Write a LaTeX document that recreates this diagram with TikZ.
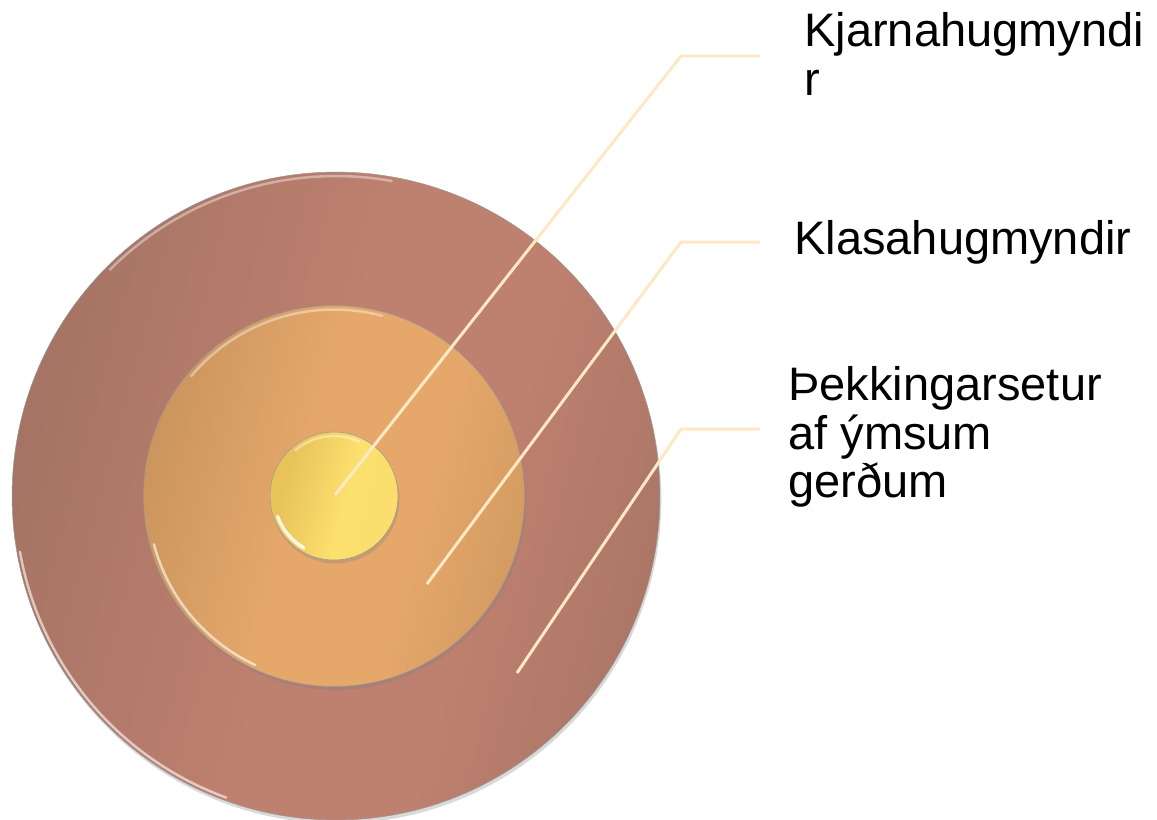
\documentclass[tikz,border=0pt]{standalone}
\usepackage{fontspec}
\setmainfont{Liberation Sans}
\usetikzlibrary{positioning,shadows}
\definecolor{RingDark}{RGB}{162,114,98}
\definecolor{RingLight}{RGB}{190,128,111}
\definecolor{DiscDark}{RGB}{203,149,93}
\definecolor{DiscLight}{RGB}{229,167,106}
\definecolor{CoreDark}{RGB}{232,195,90}
\definecolor{CoreLight}{RGB}{252,224,110}
\definecolor{LeaderCream}{RGB}{253,232,196}
\pgfdeclarehorizontalshading{ringshade}{100bp}{color(0bp)=(RingDark); color(22bp)=(RingDark);
  color(48bp)=(RingLight); color(62bp)=(RingLight); color(82bp)=(RingDark); color(100bp)=(RingDark)}
\pgfdeclarehorizontalshading{discshade}{100bp}{color(0bp)=(DiscDark); color(25bp)=(DiscDark);
  color(45bp)=(DiscLight); color(62bp)=(DiscLight); color(78bp)=(DiscDark!80!DiscLight); color(100bp)=(DiscDark)}
\pgfdeclarehorizontalshading{coreshade}{100bp}{color(0bp)=(CoreDark); color(30bp)=(CoreDark);
  color(55bp)=(CoreLight); color(100bp)=(CoreLight!85!CoreDark)}

\begin{document}
\begin{tikzpicture}[x=0.02cm, y=-0.02cm,
    disc/.style={circle, inner sep=0pt, outer sep=0pt, draw=black!40, line width=0.3pt,
      drop shadow={opacity=0.3, shadow xshift=0.8pt, shadow yshift=-2pt}},
    rim/.style={white, line width=1.4pt, opacity=0.4, line cap=round},
    leader/.style={LeaderCream, line width=1.7pt},
    lbl/.style={inner sep=0pt, align=left, text=black, font=\fontsize{26.75}{27.6}\selectfont}]
  \useasboundingbox (0,0) rectangle (1157,819);
  \node[disc, minimum size=12.96cm, shading=ringshade, shading angle=-15] (outer) at (336,496) {};
  \node[disc, minimum size=7.62cm, shading=discshade, shading angle=-15] (middle) at (334,496) {};
  \node[disc, minimum size=2.56cm, shading=coreshade, shading angle=-15] (core) at (334,496) {};
  \draw[rim] ([shift={(135:-0.08cm)}]outer.135) arc[start angle=135, end angle=80, radius=6.4cm];
  \draw[rim, opacity=0.6] ([shift={(190:-0.06cm)}]outer.190) arc[start angle=190, end angle=250, radius=6.42cm];
  \draw[rim] ([shift={(140:-0.08cm)}]middle.140) arc[start angle=140, end angle=75, radius=3.73cm];
  \draw[rim, opacity=0.6] ([shift={(195:-0.08cm)}]middle.195) arc[start angle=195, end angle=245, radius=3.73cm];
  \draw[rim] ([shift={(130:-0.08cm)}]core.130) arc[start angle=130, end angle=65, radius=1.2cm];
  \draw[rim, opacity=0.8, line width=2pt] ([shift={(200:-0.08cm)}]core.200) arc[start angle=200, end angle=240, radius=1.2cm];
  \coordinate (corept) at (335,495);
  \coordinate (midpt) at (427,584);
  \coordinate (outpt) at (517,673);
  \coordinate (kbend) at (681,56);
  \coordinate (lbend) at (681,242);
  \coordinate (tbend) at (681,429);
  \coordinate (kend) at (760,56);
  \coordinate (lend) at (760,242);
  \coordinate (tend) at (760,429);
  \draw[leader] (corept) -- (kbend) -- (kend);
  \draw[leader] (midpt) -- (lbend) -- (lend);
  \draw[leader] (outpt) -- (tbend) -- (tend);
  \node[lbl, right=0.88cm of kend, yshift=0.04cm] (klab) {Kjarnahugmyndi\\r};
  \node[lbl, right=0.68cm of lend] (llab) {Klasahugmyndir};
  \node[lbl, right=0.56cm of tend, yshift=-0.16cm] (tlab) {Þekkingarsetur\\af ýmsum\\gerðum};
\end{tikzpicture}
\end{document}
